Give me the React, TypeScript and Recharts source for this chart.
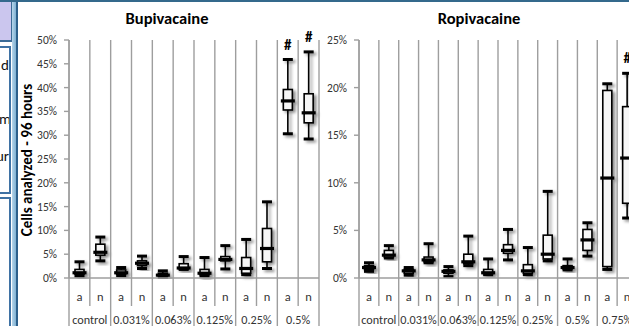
import { Bar, ComposedChart, XAxis, YAxis } from "recharts";

const bupiGroups = ["control", "0.031%", "0.063%", "0.125%", "0.25%", "0.5%"];
const ropiGroups = ["control", "0.031%", "0.063%", "0.125%", "0.25%", "0.5%", "0.75%"];
const subLabels = ["a", "n"];

// Bupivacaine, % of cells, one entry per a/n column
const bupiMin = [0.4, 3.6, 0.5, 2.0, 0.2, 1.8, 0.4, 1.9, 0.7, 2.0, 30.3, 29.2];
const bupiQ1 = [0.8, 4.8, 0.8, 2.6, 0.4, 1.9, 0.7, 3.6, 1.0, 3.4, 35.3, 32.6];
const bupiMedian = [1.1, 5.4, 1.1, 3.1, 0.6, 2.1, 1.0, 3.9, 2.0, 6.2, 37.2, 34.7];
const bupiQ3 = [1.8, 7.1, 1.7, 3.6, 1.0, 3.0, 1.8, 4.5, 4.3, 10.4, 39.6, 38.7];
const bupiMax = [3.4, 8.6, 2.2, 4.6, 1.5, 4.5, 4.3, 6.8, 8.1, 16.0, 45.9, 47.5];
const bupiSig = [10, 11];
const bupiTicks = [0, 5, 10, 15, 20, 25, 30, 35, 40, 45, 50];

// Ropivacaine
const ropiMin = [0.7, 2.1, 0.3, 1.6, 0.15, 1.3, 0.35, 1.9, 0.35, 1.8, 0.85, 2.3, 0.9, 6.3];
const ropiQ1 = [0.9, 2.2, 0.5, 1.7, 0.5, 1.5, 0.45, 2.6, 0.5, 2.0, 0.95, 2.9, 1.2, 7.85];
const ropiMedian = [1.1, 2.4, 0.75, 1.9, 0.7, 1.7, 0.55, 2.9, 0.75, 2.5, 1.1, 4.0, 10.5, 12.6];
const ropiQ3 = [1.3, 2.9, 0.9, 2.2, 0.85, 2.5, 0.9, 3.5, 1.4, 4.5, 1.3, 5.1, 19.7, 18.0];
const ropiMax = [1.6, 3.4, 1.1, 3.6, 1.2, 4.4, 2.0, 5.1, 3.2, 9.1, 2.0, 5.8, 20.4, 21.5];
const ropiSig = [13];
const ropiTicks = [0, 5, 10, 15, 20, 25];

const FONT = "Carlito, Lato, 'Liberation Sans', sans-serif";
const GRID = "#9e9e9e";
const TEXT = "#333";
const PLOT_TOP = 40;
const PLOT_H = 238;

function buildRows(
  groups: string[],
  min: number[],
  q1: number[],
  median: number[],
  q3: number[],
  max: number[],
  sig: number[]
) {
  const rows: any[] = [];
  groups.forEach((g, gi) =>
    subLabels.forEach((s, si) => {
      const i = gi * 2 + si;
      rows.push({
        id: g + " " + s,
        group: g,
        sub: s,
        min: min[i],
        q1: q1[i],
        median: median[i],
        q3: q3[i],
        max: max[i],
        sig: sig.includes(i),
      });
    })
  );
  return rows;
}

const bupiRows = buildRows(bupiGroups, bupiMin, bupiQ1, bupiMedian, bupiQ3, bupiMax, bupiSig);
const ropiRows = buildRows(ropiGroups, ropiMin, ropiQ1, ropiMedian, ropiQ3, ropiMax, ropiSig);

const BoxShape = (props: any) => {
  const { x, y, width, height, payload } = props;
  const top = Math.min(y, y + height);
  const h = Math.abs(height);
  const span = payload.max - payload.min;
  const k = span > 0 ? h / span : 0;
  const py = (v: number) => top + (payload.max - v) * k;
  const cx = x + width / 2;
  return (
    <g>
      <g filter="url(#boxShadow)">
        <line x1={cx} x2={cx} y1={py(payload.max)} y2={py(payload.min)} stroke="#000" strokeWidth={1.6} />
        <line x1={cx - 5} x2={cx + 5} y1={py(payload.max)} y2={py(payload.max)} stroke="#000" strokeWidth={3} />
        <line x1={cx - 5} x2={cx + 5} y1={py(payload.min)} y2={py(payload.min)} stroke="#000" strokeWidth={3} />
        <rect
          x={cx - 4.5}
          y={py(payload.q3)}
          width={9}
          height={Math.max(py(payload.q1) - py(payload.q3), 0.5)}
          fill="#f6f6f6"
          stroke="#000"
          strokeWidth={1.6}
        />
        <line x1={cx - 7} x2={cx + 7} y1={py(payload.median)} y2={py(payload.median)} stroke="#000" strokeWidth={3.2} />
      </g>
      {payload.sig && (
        <text x={cx} y={py(payload.max) - 10} textAnchor="middle" fontFamily={FONT} fontWeight="bold" fontSize={15} fill="#000">
          #
        </text>
      )}
    </g>
  );
};

const ColumnTick = (props: any) => {
  const { x, y, index, payload, rows, colW } = props;
  const half = payload && payload.offset ? payload.offset : colW / 2;
  const row = rows[index];
  const isFirst = index % 2 === 0;
  const isLast = index === rows.length - 1;
  return (
    <g>
      <line x1={x - half} x2={x - half} y1={y - PLOT_H} y2={y + (isFirst ? 48 : 28)} stroke={GRID} strokeWidth={1.4} />
      {isLast && (
        <line x1={x + half} x2={x + half} y1={y - PLOT_H} y2={y + 48} stroke={GRID} strokeWidth={1.4} />
      )}
      <text x={x} y={y + 23} textAnchor="middle" fontFamily={FONT} fontSize={12.5} fill={TEXT}>
        {row.sub}
      </text>
      {isFirst && (
        <text x={x + half} y={y + 46} textAnchor="middle" fontFamily={FONT} fontSize={12.2} fill={TEXT}>
          {row.group}
        </text>
      )}
    </g>
  );
};

const Panel = ({ rows, ticks, left, width, yWidth, rightMargin }: any) => {
  const colW = (width - yWidth - rightMargin) / rows.length;
  return (
    <div style={{ position: "absolute", left, top: 0 }}>
      <ComposedChart
        width={width}
        height={326}
        data={rows}
        margin={{ top: PLOT_TOP, right: rightMargin, bottom: 0, left: 0 }}
        barCategoryGap={0}
      >
        <XAxis
          dataKey="id"
          height={48}
          interval={0}
          tickSize={0}
          tickMargin={0}
          tickLine={false}
          axisLine={{ stroke: GRID, strokeWidth: 1.4 }}
          tick={(p: any) => <ColumnTick {...p} rows={rows} colW={colW} />}
        />
        <YAxis
          width={yWidth}
          domain={[0, ticks[ticks.length - 1]]}
          ticks={ticks}
          interval={0}
          tickSize={5}
          tickMargin={7}
          axisLine={{ stroke: GRID, strokeWidth: 1.4 }}
          tickLine={{ stroke: GRID, strokeWidth: 1.4 }}
          tick={{ fontFamily: FONT, fontSize: 11.5, fill: TEXT }}
          tickFormatter={(v: number) => v + "%"}
        />
        <Bar
          dataKey={(d: any) => [d.min, d.max]}
          shape={<BoxShape />}
          isAnimationActive={false}
        />
      </ComposedChart>
    </div>
  );
};

export default function App() {
  return (
    <div
      style={{
        position: "absolute",
        left: 0,
        top: 0,
        width: 629,
        height: 326,
        overflow: "hidden",
        background: "#fff",
        fontFamily: FONT,
      }}
    >
      <svg width={0} height={0} style={{ position: "absolute" }}>
        <defs>
          <filter id="boxShadow" x="-50%" y="-20%" width="200%" height="140%">
            <feDropShadow dx={2.5} dy={2} stdDeviation={1.5} floodColor="#000" floodOpacity={0.45} />
          </filter>
          <linearGradient id="sideBar" x1="0" x2="1" y1="0" y2="0">
            <stop offset="0" stopColor="#b7d6ea" />
            <stop offset="1" stopColor="#7fb0d2" />
          </linearGradient>
        </defs>
      </svg>

      {/* slide edge on the left */}
      <div style={{ position: "absolute", left: 0, top: 0, width: 11, height: 40, background: "#cbc6ee", borderRight: "2px solid #3b6b96", borderBottom: "2px solid #3b6b96" }} />
      <div style={{ position: "absolute", left: 0, top: 46, width: 9, height: 144, background: "#fff", border: "2px solid #3f72a4", borderLeft: "none", overflow: "hidden" }}>
        <div style={{ position: "absolute", right: 0, top: 8, fontSize: 15, color: "#111", whiteSpace: "nowrap" }}>d</div>
        <div style={{ position: "absolute", right: -2, top: 62, fontSize: 15, color: "#111", whiteSpace: "nowrap" }}>m</div>
        <div style={{ position: "absolute", right: 0, top: 99, fontSize: 15, color: "#111", whiteSpace: "nowrap" }}>ur</div>
      </div>
      <div style={{ position: "absolute", left: 0, top: 197, width: 9, height: 140, background: "#fff", border: "2px solid #3f72a4", borderLeft: "none" }} />
      <svg style={{ position: "absolute", left: 12, top: 0 }} width={6} height={326}>
        <rect x={0} y={0} width={4} height={326} fill="url(#sideBar)" />
        <rect x={4} y={0} width={2} height={326} fill="#2d5f8a" />
      </svg>
      <div style={{ position: "absolute", left: 0, top: 0, width: 629, height: 2, background: "#34698c" }} />

      <Panel rows={bupiRows} ticks={bupiTicks} left={0} width={330} yWidth={69} rightMargin={11} />
      <Panel rows={ropiRows} ticks={ropiTicks} left={300} width={340} yWidth={59} rightMargin={3} />

      <div style={{ position: "absolute", left: 67, top: 8, width: 200, textAlign: "center", fontWeight: "bold", fontSize: 16.5, color: "#000" }}>
        Bupivacaine
      </div>
      <div style={{ position: "absolute", left: 379, top: 8, width: 200, textAlign: "center", fontWeight: "bold", fontSize: 16.5, color: "#000" }}>
        Ropivacaine
      </div>
      <svg style={{ position: "absolute", left: 18, top: 0 }} width={20} height={326}>
        <text
          transform="translate(14,160) rotate(-90)"
          textAnchor="middle"
          fontFamily={FONT}
          fontWeight="bold"
          fontSize={15}
          fill="#000"
        >
          Cells analyzed - 96 hours
        </text>
      </svg>
    </div>
  );
}
